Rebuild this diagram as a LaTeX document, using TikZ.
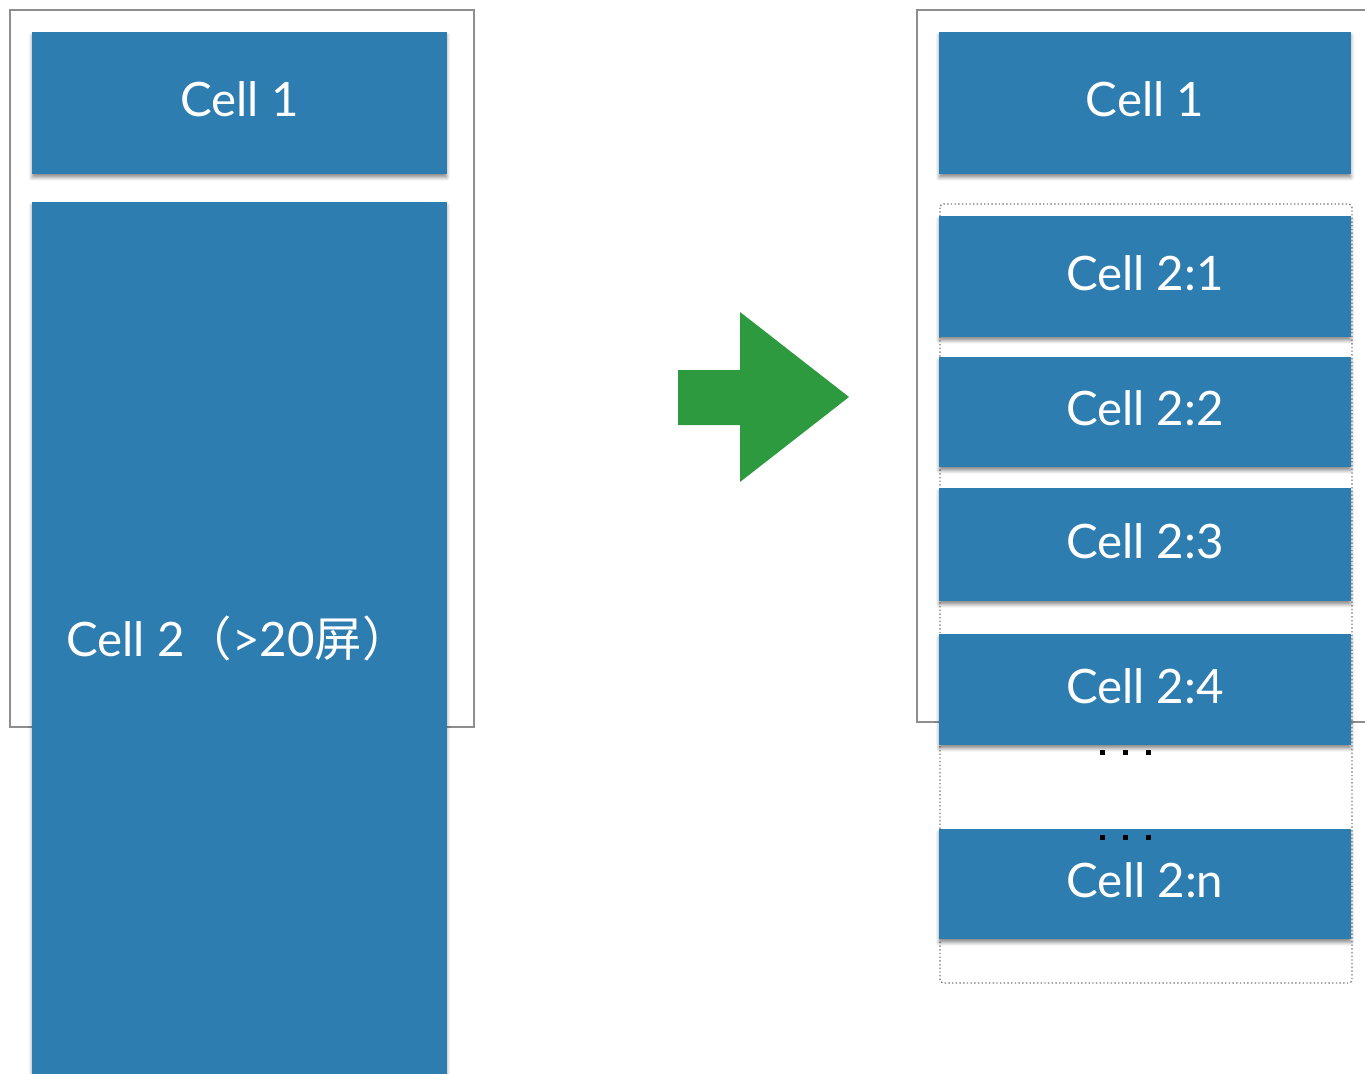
\documentclass[tikz,border=0pt]{standalone}
\usepackage{fontspec}
\setmainfont{Lato}
\newfontfamily\cjk{Noto Sans CJK SC}
\usetikzlibrary{shadows.blur}

\definecolor{cellblue}{HTML}{2E7DB0}
\definecolor{arrowgreen}{HTML}{2E9A40}
\definecolor{framegray}{HTML}{8E8E8E}
\definecolor{dotgray}{HTML}{7A7A7A}

\tikzset{
  celltext/.style={text=white, inner sep=0pt, text depth=4pt, font=\fontsize{27}{32}\selectfont},
  cellbox/.style={celltext, fill=cellblue,
    blur shadow={shadow xshift=0pt, shadow yshift=-2pt, shadow blur radius=2pt, shadow opacity=45}},
  outerframe/.style={draw=framegray, line width=1.1pt},
  dotbox/.style={draw=dotgray, dash pattern=on 0.8pt off 1.3pt, line width=0.8pt, rounded corners=2pt},
}

\begin{document}
\begin{tikzpicture}[x=0.02cm, y=-0.02cm]
\useasboundingbox (0,0) rectangle (1365,1074);

% 左边：一个很长的 cell
\draw[outerframe] (10,10) rectangle (474,727);
\node[cellbox, minimum width=8.3cm, minimum height=2.84cm] (lcell1) at (239.5,103) {Cell 1};
\node[cellbox, minimum width=8.3cm, minimum height=17.44cm] (lcell2) at (239.5,638) {};
\node[celltext, anchor=base west] (lcell2text) at (66,656) {Cell 2{\cjk （}>20{\cjk 屏）}};

% 中间箭头
\fill[arrowgreen] (678,370) -- (740,370) -- (740,312) -- (849,397)
  -- (740,482) -- (740,425) -- (678,425) -- cycle;

% 右边：拆成多个小 cell
\draw[outerframe] (1370,10) -- (917,10) -- (917,722) -- (1370,722);
\draw[dotbox] (940,204) rectangle (1352,983);
\node[cellbox, minimum width=8.24cm, minimum height=2.84cm] (rcell1) at (1145,103) {Cell 1};

\foreach \name/\y/\h/\t in {c21/276.5/2.42/1, c22/412/2.2/2, c23/544.5/2.26/3,
                            c24/689.5/2.22/4, c2n/884/2.2/n}
  \node[cellbox, minimum width=8.24cm, minimum height=\h cm] (\name) at (1145,\y) {Cell 2:\t};

\foreach \x in {1102, 1125, 1148} {
  \fill (\x-2.5,749.5) rectangle ++(5,5);
  \fill (\x-2.5,834.5) rectangle ++(5,5);
}
\end{tikzpicture}
\end{document}
